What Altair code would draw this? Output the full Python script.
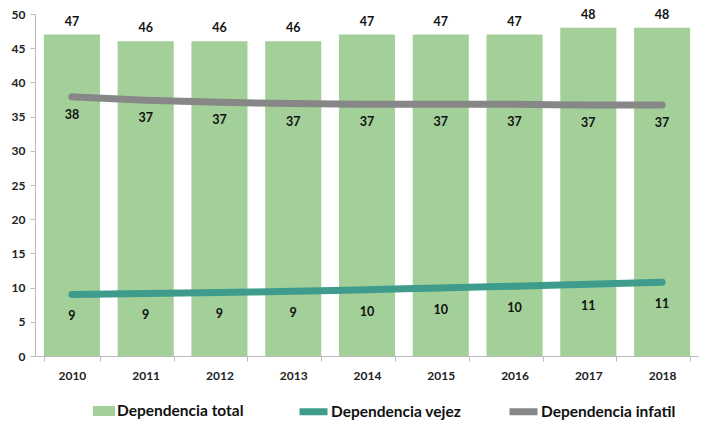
import altair as alt
import pandas as pd

years = ["2010", "2011", "2012", "2013", "2014", "2015", "2016", "2017", "2018"]
total = [47, 46, 46, 46, 47, 47, 47, 48, 48]
vejez = [9.0, 9.15, 9.3, 9.45, 9.7, 9.95, 10.2, 10.5, 10.8]
infantil = [37.9, 37.4, 37.1, 36.9, 36.8, 36.8, 36.8, 36.7, 36.7]

s_total = "Dependencia total"
s_vejez = "Dependencia vejez"
s_inf = "Dependencia infatil"

GREEN = "#A3CF99"
TEAL = "#3F9C8D"
GRAY = "#878787"
FONT = "Lato"

bars_df = pd.DataFrame({"year": years, "value": total, "series": s_total})
lines_df = pd.concat([
    pd.DataFrame({"year": years, "value": vejez, "series": s_vejez}),
    pd.DataFrame({"year": years, "value": infantil, "series": s_inf}),
])

x = alt.X("year:N", title=None, sort=years,
          scale=alt.Scale(paddingInner=0.24, paddingOuter=0.12),
          axis=alt.Axis(labelAngle=0, labelFont=FONT, labelFontWeight="bold",
                        labelFontSize=12, labelColor="#222", labelPadding=9,
                        tickBand="extent", tickSize=5, tickColor="#bbb",
                        domainColor="#bbb"))
y = alt.Y("value:Q", title=None,
          scale=alt.Scale(domain=[0, 50], nice=False),
          axis=alt.Axis(values=list(range(0, 51, 5)), grid=False,
                        labelFont=FONT, labelFontWeight="bold", labelFontSize=12,
                        labelColor="#222", tickColor="#bbb", domainColor="#bbb",
                        tickSize=5, labelPadding=5, minExtent=27, maxExtent=27,
                        labelOverlap=False))

bar = alt.Chart(bars_df).mark_bar().encode(
    x=x, y=y,
    fill=alt.Fill("series:N",
                  scale=alt.Scale(domain=[s_total], range=[GREEN]),
                  legend=alt.Legend(title=None, orient="none", legendX=58, legendY=386,
                                    symbolType="M-1,-0.45H1V0.45H-1Z", symbolSize=484,
                                    symbolStrokeWidth=0,
                                    labelFont=FONT, labelFontSize=15.5, labelFontWeight="bold",
                                    labelColor="#111", labelOffset=2)),
)

bar_text = alt.Chart(bars_df).mark_text(
    dy=-13, font=FONT, fontWeight="bold", fontSize=12.5, color="#111"
).encode(x=x, y=y, text=alt.Text("value:Q", format=".0f"))

lines = alt.Chart(lines_df).mark_line(
    strokeWidth=7, strokeCap="round", interpolate="monotone"
).encode(
    x=x, y=y,
    stroke=alt.Stroke("series:N",
                      scale=alt.Scale(domain=[s_vejez, s_inf], range=[TEAL, GRAY]),
                      legend=alt.Legend(title=None, orient="none", direction="horizontal",
                                        legendX=256, legendY=380,
                                        symbolType="stroke", symbolSize=784,
                                        symbolStrokeWidth=7, symbolOffset=5,
                                        columnPadding=33,
                                        labelFont=FONT, labelFontSize=15.5,
                                        labelFontWeight="bold", labelColor="#111",
                                        labelOffset=0)),
    detail="series:N",
)

inf_text = alt.Chart(lines_df[lines_df.series == s_inf]).mark_text(
    dy=18, font=FONT, fontWeight="bold", fontSize=12.5, color="#111"
).encode(x=x, y=y, text=alt.Text("value:Q", format=".0f"))

vej_text = alt.Chart(lines_df[lines_df.series == s_vejez]).mark_text(
    dy=22, font=FONT, fontWeight="bold", fontSize=12.5, color="#111"
).encode(x=x, y=y, text=alt.Text("value:Q", format=".0f"))

chart = alt.layer(bar, bar_text, lines, inf_text, vej_text).resolve_scale(
    fill="independent", stroke="independent"
).properties(
    width=664, height=342,
    padding={"left": 0, "top": 0, "right": 0, "bottom": 0},
    background="white",
).configure_view(stroke=None)

chart.save("out.html", embed_options={"renderer": "svg", "actions": False})
